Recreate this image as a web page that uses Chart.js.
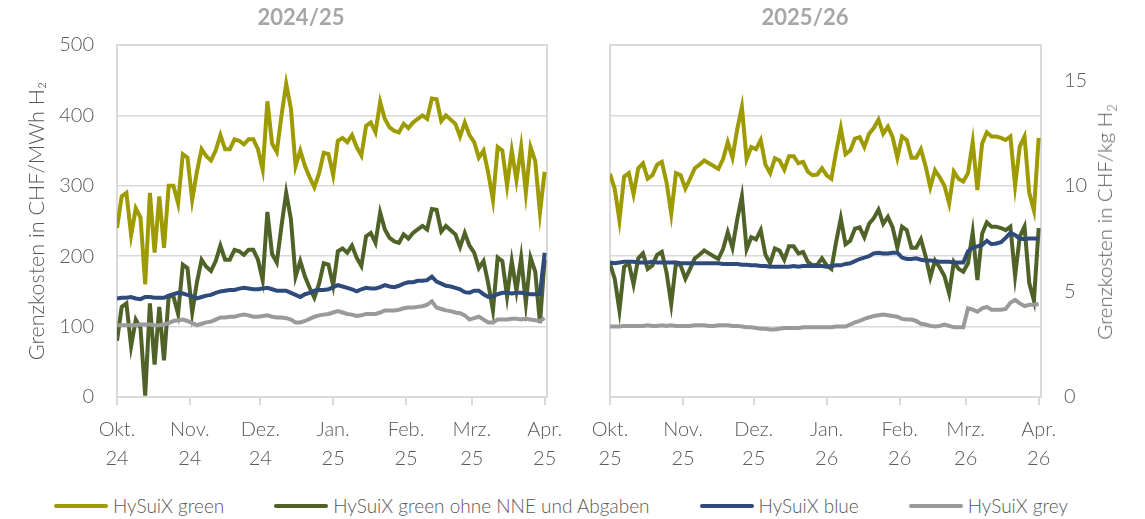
<!DOCTYPE html>
<html>
<head>
<meta charset="utf-8">
<script src="https://cdn.jsdelivr.net/npm/chart.js@4.4.1/dist/chart.umd.min.js"></script>
<style>
  body { margin: 0; background: #fff; font-family: Lato, "Open Sans", sans-serif; }
  #wrap { position: relative; width: 1145px; height: 519px; overflow: hidden; }
  canvas { position: absolute; top: 0; }
  #leftChart { left: 0; }
  #rightChart { left: 575px; }
  .panel-title { position: absolute; top: 3px; font-size: 22px; font-weight: bold; color: #a6a6a6; transform: translateX(-50%); white-space: nowrap; }
  #rightAxisTitle { position: absolute; left: 1106px; top: 222px; transform: translate(-50%, -50%) rotate(-90deg); font-size: 20.5px; font-weight: 300; color: #595959; white-space: nowrap; }
  #rightAxisTitle sub { font-size: 13px; }
  #legend { position: absolute; left: 54px; top: 494px; display: flex; gap: 50px; }
  .legend-item { display: flex; align-items: center; font-size: 19px; font-weight: 300; color: #595959; white-space: nowrap; }
  .legend-line { width: 54px; height: 4px; border-radius: 2px; margin-right: 5px; }
</style>
</head>
<body>
<div id="wrap">
  <canvas id="leftChart" width="575" height="475"></canvas>
  <canvas id="rightChart" width="570" height="475"></canvas>
  <div class="panel-title" id="title0" style="left:301px"></div>
  <div class="panel-title" id="title1" style="left:805px"></div>
  <div id="rightAxisTitle">Grenzkosten in CHF/kg H<sub>2</sub></div>
  <div id="legend"></div>
</div>
<script>
// days since 1 October, one sample every second day
const sampleDays = [0, 2, 4, 6, 8, 10, 12, 14, 16, 18,
  20, 22, 24, 26, 28, 30, 32, 34, 36, 38,
  40, 42, 44, 46, 48, 50, 52, 54, 56, 58,
  60, 62, 64, 66, 68, 70, 72, 74, 76, 78,
  80, 82, 84, 86, 88, 90, 92, 94, 96, 98,
  100, 102, 104, 106, 108, 110, 112, 114, 116, 118,
  120, 122, 124, 126, 128, 130, 132, 134, 136, 138,
  140, 142, 144, 146, 148, 150, 152, 154, 156, 158,
  160, 162, 164, 166, 168, 170, 172, 174, 176, 178,
  180, 182];

const monthTickDays = [0, 31, 61, 92, 123, 151, 182];
const monthNames = ['Okt.', 'Nov.', 'Dez.', 'Jan.', 'Feb.', 'Mrz.', 'Apr.'];
const yearLabels2425 = ['24', '24', '24', '25', '25', '25', '25'];
const yearLabels2526 = ['25', '25', '25', '26', '26', '26', '26'];
const panelTitles = ['2024/25', '2025/26'];
const mwhTicks = [0, 100, 200, 300, 400, 500];
const kgTicks = [0, 5, 10, 15];
const kWhPerKg = 33.33;

const seriesNames = ['HySuiX green', 'HySuiX green ohne NNE und Abgaben', 'HySuiX blue', 'HySuiX grey'];
const seriesColors = ['#9e9b00', '#4f6228', '#2f4b7c', '#9a9a9a'];

// CHF/MWh H2, season 2024/25
const green2425 = [240, 285, 290, 230, 268, 255, 160, 290, 205, 285,
  212, 300, 300, 275, 345, 340, 280, 320, 352, 342,
  336, 350, 372, 352, 352, 366, 364, 359, 366, 366,
  352, 323, 420, 360, 348, 400, 445, 410, 328, 350,
  328, 312, 298, 318, 347, 345, 315, 364, 368, 362,
  372, 355, 343, 385, 390, 376, 419, 395, 383, 378,
  376, 388, 382, 390, 395, 400, 395, 424, 423, 392,
  400, 394, 388, 370, 390, 372, 362, 340, 350, 318,
  280, 355, 350, 300, 350, 308, 355, 290, 355, 335,
  262, 320];
const greenOhne2425 = [80, 128, 133, 72, 110, 98, 2, 133, 46, 128,
  52, 143, 143, 118, 188, 183, 120, 163, 195, 185,
  179, 193, 215, 195, 195, 209, 207, 202, 209, 209,
  195, 166, 263, 203, 191, 243, 290, 253, 171, 193,
  171, 155, 141, 161, 190, 188, 158, 207, 211, 205,
  215, 198, 186, 228, 233, 219, 262, 238, 226, 221,
  219, 231, 225, 233, 238, 243, 238, 267, 266, 235,
  243, 237, 231, 213, 233, 215, 205, 183, 193, 161,
  123, 198, 193, 143, 193, 151, 198, 133, 198, 178,
  105, 195];
const blue2425 = [140, 141, 141, 142, 140, 139, 142, 142, 141, 141,
  141, 144, 146, 148, 147, 145, 143, 140, 142, 144,
  145, 148, 150, 151, 152, 152, 154, 155, 154, 153,
  153, 154, 155, 153, 151, 151, 151, 148, 145, 142,
  146, 148, 151, 152, 152, 153, 156, 159, 157, 155,
  153, 150, 153, 155, 154, 154, 156, 159, 157, 156,
  158, 161, 163, 163, 165, 165, 166, 171, 164, 161,
  158, 157, 155, 153, 149, 148, 151, 151, 146, 142,
  143, 146, 148, 148, 147, 148, 148, 147, 146, 146,
  146, 205];
const grey2425 = [102, 102, 102, 102, 102, 103, 103, 103, 102, 102,
  103, 105, 108, 109, 110, 108, 105, 102, 104, 106,
  107, 110, 113, 113, 114, 114, 116, 117, 116, 114,
  114, 115, 116, 114, 113, 113, 112, 110, 106, 106,
  108, 111, 114, 116, 117, 118, 120, 122, 120, 118,
  117, 115, 116, 118, 118, 118, 120, 123, 123, 123,
  124, 126, 127, 127, 128, 129, 131, 136, 127, 125,
  123, 122, 120, 119, 116, 110, 112, 114, 110, 106,
  106, 110, 110, 110, 111, 111, 110, 111, 110, 109,
  108, 112];

// CHF/MWh H2, season 2025/26
const green2526 = [317, 296, 251, 313, 318, 288, 325, 332, 310, 315,
  330, 334, 305, 260, 318, 315, 296, 310, 325, 330,
  336, 332, 328, 324, 338, 362, 340, 380, 412, 338,
  355, 352, 365, 330, 318, 339, 336, 323, 342, 342,
  332, 334, 320, 315, 316, 325, 315, 310, 348, 382,
  345, 350, 367, 369, 355, 374, 382, 394, 374, 384,
  369, 340, 370, 365, 340, 340, 352, 328, 298, 322,
  312, 300, 275, 320, 310, 306, 318, 362, 294, 360,
  376, 370, 370, 368, 365, 370, 300, 356, 370, 290,
  265, 368];
const greenOhne2526 = [189, 168, 123, 185, 190, 160, 197, 204, 182, 187,
  202, 206, 177, 132, 190, 187, 168, 182, 197, 202,
  208, 204, 200, 196, 210, 234, 212, 252, 285, 210,
  227, 224, 237, 202, 190, 211, 208, 195, 214, 214,
  204, 206, 192, 187, 188, 197, 187, 182, 220, 254,
  217, 222, 239, 241, 227, 246, 254, 266, 246, 256,
  241, 212, 242, 237, 212, 212, 224, 200, 170, 194,
  184, 172, 147, 192, 182, 178, 190, 234, 166, 232,
  248, 242, 242, 240, 237, 242, 172, 228, 242, 162,
  137, 240];
const blue2526 = [191, 190, 191, 192, 192, 192, 191, 191, 191, 192,
  191, 191, 191, 191, 191, 190, 190, 190, 190, 190,
  190, 190, 190, 190, 189, 189, 189, 189, 188, 188,
  187, 187, 186, 186, 185, 185, 185, 185, 185, 186,
  185, 186, 186, 186, 186, 186, 185, 186, 187, 187,
  189, 190, 193, 196, 198, 200, 204, 205, 204, 204,
  205, 205, 198, 196, 196, 197, 195, 194, 194, 193,
  192, 192, 192, 191, 191, 191, 207, 212, 214, 216,
  222, 217, 218, 220, 226, 233, 230, 225, 224, 225,
  225, 225];
const grey2526 = [100, 100, 100, 101, 101, 101, 101, 101, 102, 101,
  101, 102, 101, 102, 101, 101, 101, 101, 102, 102,
  102, 101, 101, 102, 102, 102, 101, 101, 100, 99,
  99, 98, 97, 97, 96, 96, 97, 98, 98, 98,
  98, 99, 99, 99, 99, 99, 99, 99, 100, 100,
  100, 103, 106, 108, 111, 113, 115, 116, 117, 116,
  115, 114, 111, 110, 110, 108, 104, 103, 101, 100,
  101, 103, 101, 99, 99, 99, 126, 124, 121, 126,
  128, 124, 124, 124, 125, 134, 138, 133, 129, 131,
  131, 132];

const textColor = '#595959';
const frameColor = '#d9d9d9';
const tickFont = { family: 'Lato, "Open Sans", sans-serif', size: 20, weight: 300, lineHeight: 1.45 };

// thin box round the plot area
const framePlugin = {
  id: 'frame',
  beforeDatasetsDraw(chart) {
    const { ctx, chartArea: a } = chart;
    ctx.save();
    ctx.strokeStyle = frameColor;
    ctx.lineWidth = 2;
    ctx.strokeRect(a.left, a.top, a.right - a.left, a.bottom - a.top);
    ctx.restore();
  }
};

function buildPanel(canvasId, series, yearLabels, isRight) {
  const datasets = series.map((values, i) => ({
    label: seriesNames[i],
    data: values.map((v, k) => ({ x: sampleDays[k], y: v })),
    borderColor: seriesColors[i],
    backgroundColor: seriesColors[i],
    borderWidth: 4,
    pointRadius: 0,
    tension: 0,
    order: series.length - i,
    yAxisID: 'y'
  }));

  const scales = {
    x: {
      type: 'linear',
      min: 0,
      max: 183,
      afterBuildTicks: s => { s.ticks = monthTickDays.map(v => ({ value: v })); },
      afterFit: s => { s.height = 78; },
      ticks: {
        autoSkip: false,
        maxRotation: 0,
        padding: 10,
        color: textColor,
        font: tickFont,
        callback: v => {
          const k = monthTickDays.indexOf(v);
          return [monthNames[k], yearLabels[k]];
        }
      },
      grid: { drawOnChartArea: false, drawTicks: true, tickLength: 8, color: frameColor, lineWidth: 2 },
      border: { display: true, color: frameColor, width: 2 }
    },
    y: {
      min: 0,
      max: 500,
      afterBuildTicks: s => { s.ticks = mwhTicks.map(v => ({ value: v })); },
      afterFit: s => { s.width = isRight ? 0 : 117; },
      ticks: { display: !isRight, padding: 23, color: textColor, font: tickFont },
      grid: { color: frameColor, lineWidth: 1.5, drawTicks: false },
      border: { display: false },
      title: {
        display: !isRight,
        text: 'Grenzkosten in CHF/MWh H₂',
        color: textColor,
        font: { family: 'Lato, "Open Sans", sans-serif', size: 21.5, weight: 300 },
        padding: { top: 24, bottom: 0 }
      }
    }
  };

  if (isRight) {
    scales.y2 = {
      position: 'right',
      min: 0,
      max: 500 * kWhPerKg / 1000,
      afterBuildTicks: s => { s.ticks = kgTicks.map(v => ({ value: v })); },
      afterFit: s => { s.width = 104; },
      ticks: { padding: 23, color: textColor, font: tickFont },
      grid: { drawOnChartArea: false, drawTicks: false },
      border: { display: false }
    };
  }

  return new Chart(document.getElementById(canvasId), {
    type: 'line',
    data: { datasets },
    options: {
      responsive: false,
      animation: false,
      devicePixelRatio: 1,
      layout: { padding: isRight ? { top: 45, left: 35, right: 0, bottom: 0 } : { top: 45, left: 0, right: 28, bottom: 0 } },
      plugins: { legend: { display: false }, tooltip: { enabled: false } },
      scales
    },
    plugins: [framePlugin]
  });
}

buildPanel('leftChart', [green2425, greenOhne2425, blue2425, grey2425], yearLabels2425, false);
buildPanel('rightChart', [green2526, greenOhne2526, blue2526, grey2526], yearLabels2526, true);

document.getElementById('title0').textContent = panelTitles[0];
document.getElementById('title1').textContent = panelTitles[1];

const legend = document.getElementById('legend');
seriesNames.forEach((name, i) => {
  const item = document.createElement('div');
  item.className = 'legend-item';
  const line = document.createElement('span');
  line.className = 'legend-line';
  line.style.background = seriesColors[i];
  const label = document.createElement('span');
  label.textContent = name;
  item.appendChild(line);
  item.appendChild(label);
  legend.appendChild(item);
});
</script>
</body>
</html>
